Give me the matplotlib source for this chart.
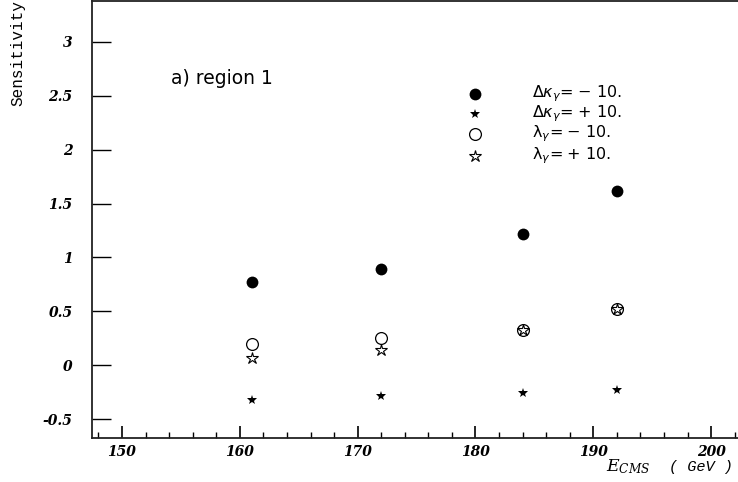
import matplotlib
matplotlib.use("Agg")
import matplotlib.pyplot as plt
from matplotlib.ticker import MultipleLocator

# Data
energies = [161, 172, 184, 192]
dk_minus10 = [0.77, 0.895, 1.22, 1.615]
dk_plus10 = [-0.325, -0.29, -0.262, -0.232]
lam_minus10 = [0.20, 0.256, 0.325, 0.525]
lam_plus10 = [0.065, 0.14, 0.325, 0.525]
x_ticks = [150, 160, 170, 180, 190, 200]
y_ticks = [-0.5, 0, 0.5, 1, 1.5, 2, 2.5, 3]
y_tick_labels = ["-0.5", "0", "0.5", "1", "1.5", "2", "2.5", "3"]
legend_labels = [r"$\Delta\kappa_\gamma\!=\!-\,10.$", r"$\Delta\kappa_\gamma\!=\!+\,10.$",
                 r"$\mathrm{\lambda}_\gamma\!=\!-\,10.$", r"$\mathrm{\lambda}_\gamma\!=\!+\,10.$"]

W, H = 738, 482
fig = plt.figure(figsize=(W / 100, H / 100), dpi=100)
ax = fig.add_axes([92 / W, (H - 438) / H, (W - 92) / W + 0.01, 438 / H - 0.002])

ax.set_xlim(147.46, 202.9)
ax.set_ylim(-0.676, 3.38)

filled_dot = dict(marker='o', color='black', markersize=8.5, markeredgewidth=0)
filled_star = dict(marker='*', color='black', markersize=7.5, markeredgewidth=0)
open_dot = dict(marker='o', markerfacecolor='none', markeredgecolor='black',
                markersize=8.5, markeredgewidth=0.9)
open_star = dict(marker='*', markerfacecolor='none', markeredgecolor='black',
                 markersize=9, markeredgewidth=0.8)

ax.plot(energies, dk_minus10, linestyle='none', **filled_dot)
ax.plot(energies, dk_plus10, linestyle='none', **filled_star)
ax.plot(energies, lam_minus10, linestyle='none', **open_dot)
ax.plot(energies, lam_plus10, linestyle='none', **open_star)

for s in ['left', 'bottom', 'top']:
    ax.spines[s].set_linewidth(1.3)
    ax.spines[s].set_color('#222222')
ax.spines['right'].set_visible(False)

ax.set_xticks(x_ticks)
ax.xaxis.set_minor_locator(MultipleLocator(2))
ax.set_yticks(y_ticks)
ax.set_yticklabels(y_tick_labels)
ax.tick_params(axis='x', which='major', direction='in', length=9, width=1.2, pad=5)
ax.tick_params(axis='x', which='minor', direction='in', length=4, width=1.0)
ax.tick_params(axis='y', which='major', direction='in', length=14, width=1.0, pad=14)
ax.tick_params(axis='y', which='minor', left=False)
ax.tick_params(top=False, right=False)
for lab in ax.get_xticklabels() + ax.get_yticklabels():
    lab.set_fontfamily('DejaVu Serif')
    lab.set_fontstyle('italic')
    lab.set_fontweight('bold')
    lab.set_fontsize(10)

# Legend-like annotations
leg_x_sym = 180.0
leg_x_txt = 184.8
leg_y = [2.52, 2.33, 2.145, 1.945]
for yy, st, lab in zip(leg_y, [filled_dot, filled_star, open_dot, open_star], legend_labels):
    ax.plot([leg_x_sym], [yy], linestyle='none', **st)
    ax.text(leg_x_txt, yy, lab, fontsize=11.5, va='center', ha='left',
            math_fontfamily='dejavusans')

ax.text(154.2, 2.66, "a) region 1", fontsize=13.5, fontfamily='DejaVu Sans',
        va='center', ha='left')

fig.text(18 / W, 1.0, "Sensitivity", rotation=90, fontfamily='Liberation Mono',
         fontsize=11.5, ha='center', va='top')
fig.text(606 / W, 1 - 467 / H, r"$E_{CMS}$", fontsize=12.5, ha='left', va='center',
         math_fontfamily='dejavuserif')
fig.text(669 / W, 1 - 467 / H, "( GeV )", fontsize=11, fontfamily='Liberation Mono',
         fontstyle='italic', ha='left', va='center')

fig.savefig("out.png", dpi=100)
